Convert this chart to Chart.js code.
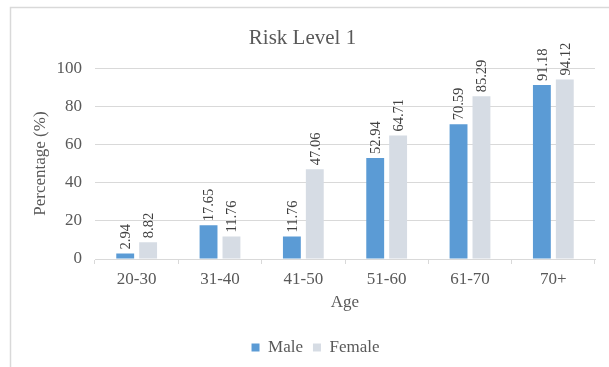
<!DOCTYPE html>
<html>
<head>
<meta charset="utf-8">
<script src="https://cdn.jsdelivr.net/npm/chart.js@4"></script>
<style>
  html, body { margin: 0; padding: 0; background: #fff; }
  #wrap { width: 609px; height: 367px; }
</style>
</head>
<body>
<div id="wrap"><canvas id="grafico" width="609" height="367"></canvas></div>
<script>
// dados
const faixas = ['20-30', '31-40', '41-50', '51-60', '61-70', '70+'];
const masculino = [2.94, 17.65, 11.76, 52.94, 70.59, 91.18];
const feminino = [8.82, 11.76, 47.06, 64.71, 85.29, 94.12];
const ticksY = [0, 20, 40, 60, 80, 100];

const serif = '"Liberation Serif", "Times New Roman", serif';
const cinza = '#595959';

// moldura e fundo
const moldura = {
  id: 'moldura',
  beforeDraw(chart) {
    const c = chart.ctx;
    c.save();
    c.fillStyle = '#fff';
    c.fillRect(0, 0, chart.width, chart.height);
    c.strokeStyle = '#d9d9d9';
    c.lineWidth = 1.5;
    c.beginPath();
    c.moveTo(10.5, chart.height + 5);
    c.lineTo(10.5, 7.5);
    c.lineTo(chart.width + 5, 7.5);
    c.stroke();
    c.restore();
  },
  // legenda um pouco à direita, como no original
  afterLayout(chart) {
    chart.legend.left += 13;
    chart.legend.right += 13;
  }
};

// rótulos verticais acima das barras
const rotulos = {
  id: 'rotulos',
  afterDatasetsDraw(chart) {
    const c = chart.ctx;
    c.save();
    c.font = '14.5px ' + serif;
    c.fillStyle = '#404040';
    c.textAlign = 'left';
    c.textBaseline = 'middle';
    chart.data.datasets.forEach((ds, i) => {
      chart.getDatasetMeta(i).data.forEach((bar, j) => {
        c.save();
        c.translate(bar.x, bar.y - 4);
        c.rotate(-Math.PI / 2);
        c.fillText(ds.data[j].toFixed(2), 0, 1);
        c.restore();
      });
    });
    c.restore();
  }
};

new Chart(document.getElementById('grafico'), {
  type: 'bar',
  data: {
    labels: faixas,
    datasets: [
      { label: 'Male', data: masculino, backgroundColor: '#5b9bd5',
        categoryPercentage: 0.55, barPercentage: 0.78 },
      { label: 'Female', data: feminino, backgroundColor: '#d6dce4',
        categoryPercentage: 0.55, barPercentage: 0.78 }
    ]
  },
  options: {
    responsive: false,
    animation: false,
    devicePixelRatio: 1,
    layout: { padding: { left: 10, right: 14, top: 0, bottom: 1 } },
    plugins: {
      title: {
        display: true,
        text: 'Risk Level 1',
        color: cinza,
        font: { family: serif, size: 21, weight: 'normal' },
        padding: { top: 26, bottom: 17 }
      },
      legend: {
        position: 'bottom',
        labels: {
          color: cinza,
          font: { family: serif, size: 17 },
          boxWidth: 8,
          boxHeight: 8,
          padding: 10
        }
      },
      tooltip: { enabled: false }
    },
    scales: {
      x: {
        grid: { drawOnChartArea: false, color: '#d9d9d9', tickLength: 5 },
        border: { color: '#d9d9d9' },
        ticks: { color: cinza, font: { family: serif, size: 17 }, padding: 5 },
        title: {
          display: true, text: 'Age', color: cinza,
          font: { family: serif, size: 17 },
          padding: { top: 0, bottom: 16 }
        },
        afterFit(scale) { scale.height = 70; }
      },
      y: {
        min: 0,
        max: 100,
        afterBuildTicks(scale) { scale.ticks = ticksY.map(v => ({ value: v })); },
        grid: { color: '#d9d9d9', drawTicks: false },
        border: { display: false },
        ticks: { color: cinza, font: { family: serif, size: 17 }, padding: 13 },
        title: {
          display: true, text: 'Percentage (%)', color: cinza,
          font: { family: serif, size: 17 },
          padding: { top: 20, bottom: 0 }
        },
        afterFit(scale) { scale.width = 85; }
      }
    }
  },
  plugins: [moldura, rotulos]
});
</script>
</body>
</html>
